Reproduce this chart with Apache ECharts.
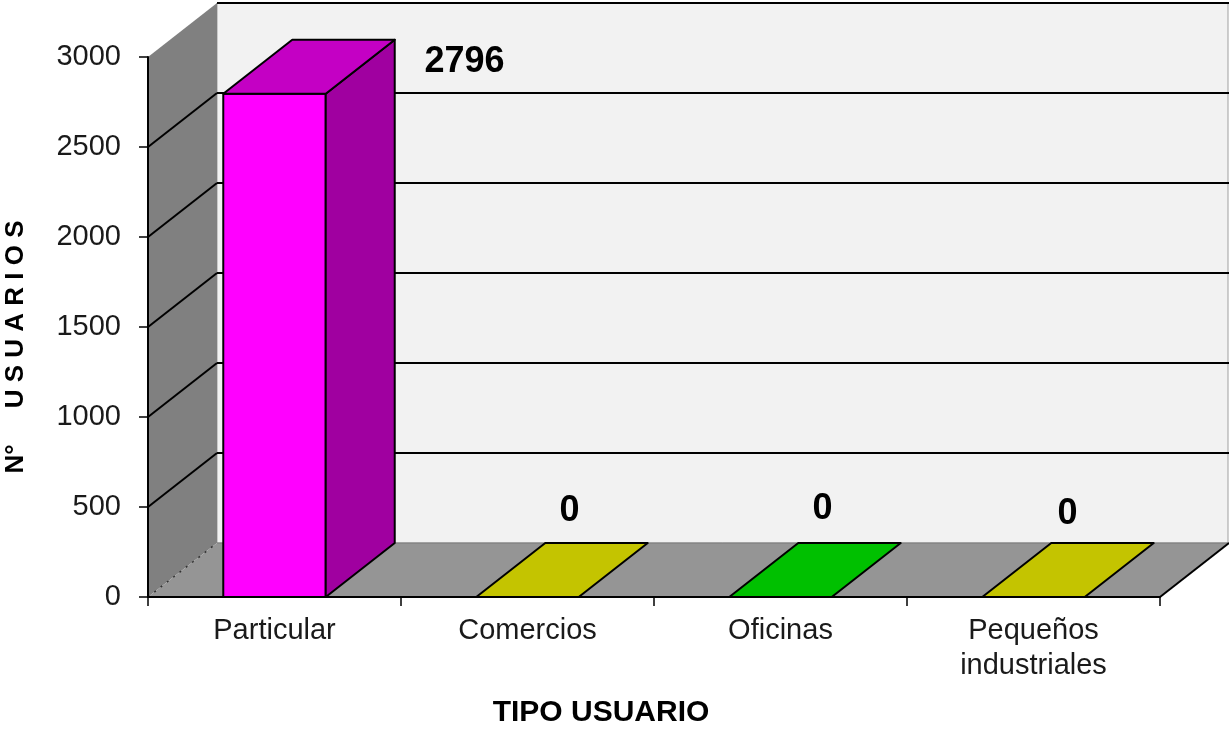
<!DOCTYPE html>
<html>
<head>
<meta charset="utf-8">
<title>Tipo usuario</title>
<script src="https://cdn.jsdelivr.net/npm/echarts@6/dist/echarts.min.js"></script>
<style>
    html, body {margin: 0; padding: 0; background: #fff;}
    #chart {width: 1229px; height: 731px;}
</style>
</head>
<body>
<div id="chart"></div>
<script>
    // datos
    var categorias = ['Particular', 'Comercios', 'Oficinas', 'Pequeños\nindustriales']
    var usuarios = [2796, 0, 0, 0]
    var ticksY = [0, 500, 1000, 1500, 2000, 2500, 3000]

    // colores de cada barra: frente, techo, lateral
    var colorFrente = ['#ff00ff', '#ffff00', '#00ff00', '#ffff00']
    var colorTecho = ['#c400c4', '#c4c400', '#00c000', '#c4c400']
    var colorLado = ['#a000a0', '#a0a000', '#00a000', '#a0a000']

    // desplazamiento de las etiquetas respecto al techo de la barra (px)
    var desplazEtiqueta = [[190, -32], [42, -86], [42, -88], [34, -83]]

    // profundidad del efecto 3D
    var DX = 69, DY = -54
    var FONT = '"Liberation Sans", Arial, sans-serif'

    var chart = echarts.init(document.getElementById('chart'))

    // paredes y suelo
    function paredes(params, api) {
        var r = params.coordSys
        var x0 = r.x, x1 = r.x + r.width, y0 = r.y + r.height, yTop = r.y
        return {
            type: 'group',
            children: [
                {type: 'rect', shape: {x: x0 + DX, y: yTop + DY, width: r.width - 1, height: r.height},
                    style: {fill: '#f2f2f2', stroke: '#a0a0a0', lineWidth: 1}},
                {type: 'polygon', shape: {points: [[x0, y0], [x0, yTop], [x0 + DX, yTop + DY], [x0 + DX, y0 + DY]]},
                    style: {fill: '#808080'}},
                {type: 'polygon', shape: {points: [[x0, y0], [x1, y0], [x1 + DX, y0 + DY], [x0 + DX, y0 + DY]]},
                    style: {fill: '#959595'}},
                {type: 'line', shape: {x1: x0, y1: y0, x2: x0 + DX, y2: y0 + DY},
                    style: {stroke: '#333', lineWidth: 1.5, lineDash: [2, 6]}},
                {type: 'line', shape: {x1: x0 + DX, y1: y0 + DY, x2: x1 + DX, y2: y0 + DY},
                    style: {stroke: '#7a7a7a', lineWidth: 1}},
                {type: 'line', shape: {x1: x1, y1: y0, x2: x1 + DX, y2: y0 + DY},
                    style: {stroke: '#000', lineWidth: 2}}
            ]
        }
    }

    // lineas de division en la pared del fondo y la izquierda
    function divisiones(params, api) {
        var r = params.coordSys
        var v = api.value(1)
        if (v === 0) return null
        var y = api.coord([0, v])[1]
        var x0 = r.x, x1 = r.x + r.width
        var kids = [
            {type: 'line', shape: {x1: x0 + DX, y1: y + DY, x2: x1 + DX, y2: y + DY},
                style: {stroke: '#000', lineWidth: 2}}
        ]
        if (v < ticksY[ticksY.length - 1]) {
            kids.push({type: 'line', shape: {x1: x0, y1: y, x2: x0 + DX, y2: y + DY},
                style: {stroke: '#000', lineWidth: 2}})
        }
        return {type: 'group', children: kids}
    }

    // barras 3D
    function barras(params, api) {
        var i = params.dataIndex
        var v = api.value(1)
        var top = api.coord([i, v]), base = api.coord([i, 0])
        var w = api.size([1, 0])[0] * 0.405
        var xl = top[0] - w / 2, xr = top[0] + w / 2
        var yt = top[1], yb = base[1]
        var kids = []
        if (yb - yt > 0.5) {
            kids.push({type: 'rect', shape: {x: xl, y: yt, width: w, height: yb - yt},
                style: {fill: colorFrente[i], stroke: '#000', lineWidth: 2}})
            kids.push({type: 'polygon', shape: {points: [[xr, yb], [xr, yt], [xr + DX, yt + DY], [xr + DX, yb + DY]]},
                style: {fill: colorLado[i], stroke: '#000', lineWidth: 2, lineJoin: 'round'}})
        }
        kids.push({type: 'polygon', shape: {points: [[xl, yt], [xr, yt], [xr + DX, yt + DY], [xl + DX, yt + DY]]},
            style: {fill: colorTecho[i], stroke: '#000', lineWidth: 2, lineJoin: 'round'}})
        return {type: 'group', children: kids}
    }

    // etiquetas de valor
    function etiquetas(params, api) {
        var i = params.dataIndex
        var v = api.value(1)
        var top = api.coord([i, v])
        var d = desplazEtiqueta[i]
        return {
            type: 'text',
            x: top[0] + d[0],
            y: top[1] + d[1],
            style: {
                text: String(v),
                font: 'bold 36px ' + FONT,
                fill: '#000',
                align: 'center',
                verticalAlign: 'middle',
                textAlign: 'center',
                textVerticalAlign: 'middle'
            }
        }
    }

    var datosBarras = usuarios.map(function (v, i) { return [i, v] })

    var option = {
        animation: false,
        backgroundColor: '#fff',
        grid: {left: 148, right: 69, top: 57, bottom: 134, containLabel: false, outerBoundsMode: 'none'},
        xAxis: {
            type: 'category',
            data: categorias,
            z: 10,
            axisLine: {show: true, lineStyle: {color: '#000', width: 2}},
            axisTick: {show: true, length: 9, lineStyle: {color: '#000', width: 1.5}},
            axisLabel: {fontSize: 29, lineHeight: 35, margin: 16, color: '#1a1a1a', fontFamily: FONT, interval: 0},
            splitLine: {show: false}
        },
        yAxis: {
            type: 'value',
            min: 0,
            max: 3000,
            interval: 500,
            z: 10,
            axisLine: {show: true, lineStyle: {color: '#000', width: 2}},
            axisTick: {show: true, length: 9, lineStyle: {color: '#000', width: 1.5}},
            axisLabel: {fontSize: 29, margin: 27, color: '#1a1a1a', fontFamily: FONT,
                formatter: function (v) { return String(v) }},
            splitLine: {show: false}
        },
        graphic: [
            {
                type: 'text', x: 16, y: 347, rotation: Math.PI / 2,
                style: {
                    text: 'N°     ' + 'USUARIOS'.split('').join(' '),
                    font: 'bold 26px ' + FONT, fill: '#000',
                    align: 'center', verticalAlign: 'middle'
                }
            },
            {
                type: 'text', x: 601, y: 713,
                style: {
                    text: 'TIPO USUARIO',
                    font: 'bold 30px ' + FONT, fill: '#000',
                    align: 'center', verticalAlign: 'middle'
                }
            }
        ],
        series: [
            {type: 'custom', renderItem: paredes, data: [[0, 0]], clip: false, z: 1, silent: true},
            {type: 'custom', renderItem: divisiones, data: ticksY.map(function (v) { return [0, v] }), clip: false, z: 2, silent: true},
            {type: 'custom', renderItem: barras, data: datosBarras, clip: false, z: 3},
            {type: 'custom', renderItem: etiquetas, data: datosBarras, clip: false, z: 4}
        ]
    }

    chart.setOption(option)
</script>
</body>
</html>
